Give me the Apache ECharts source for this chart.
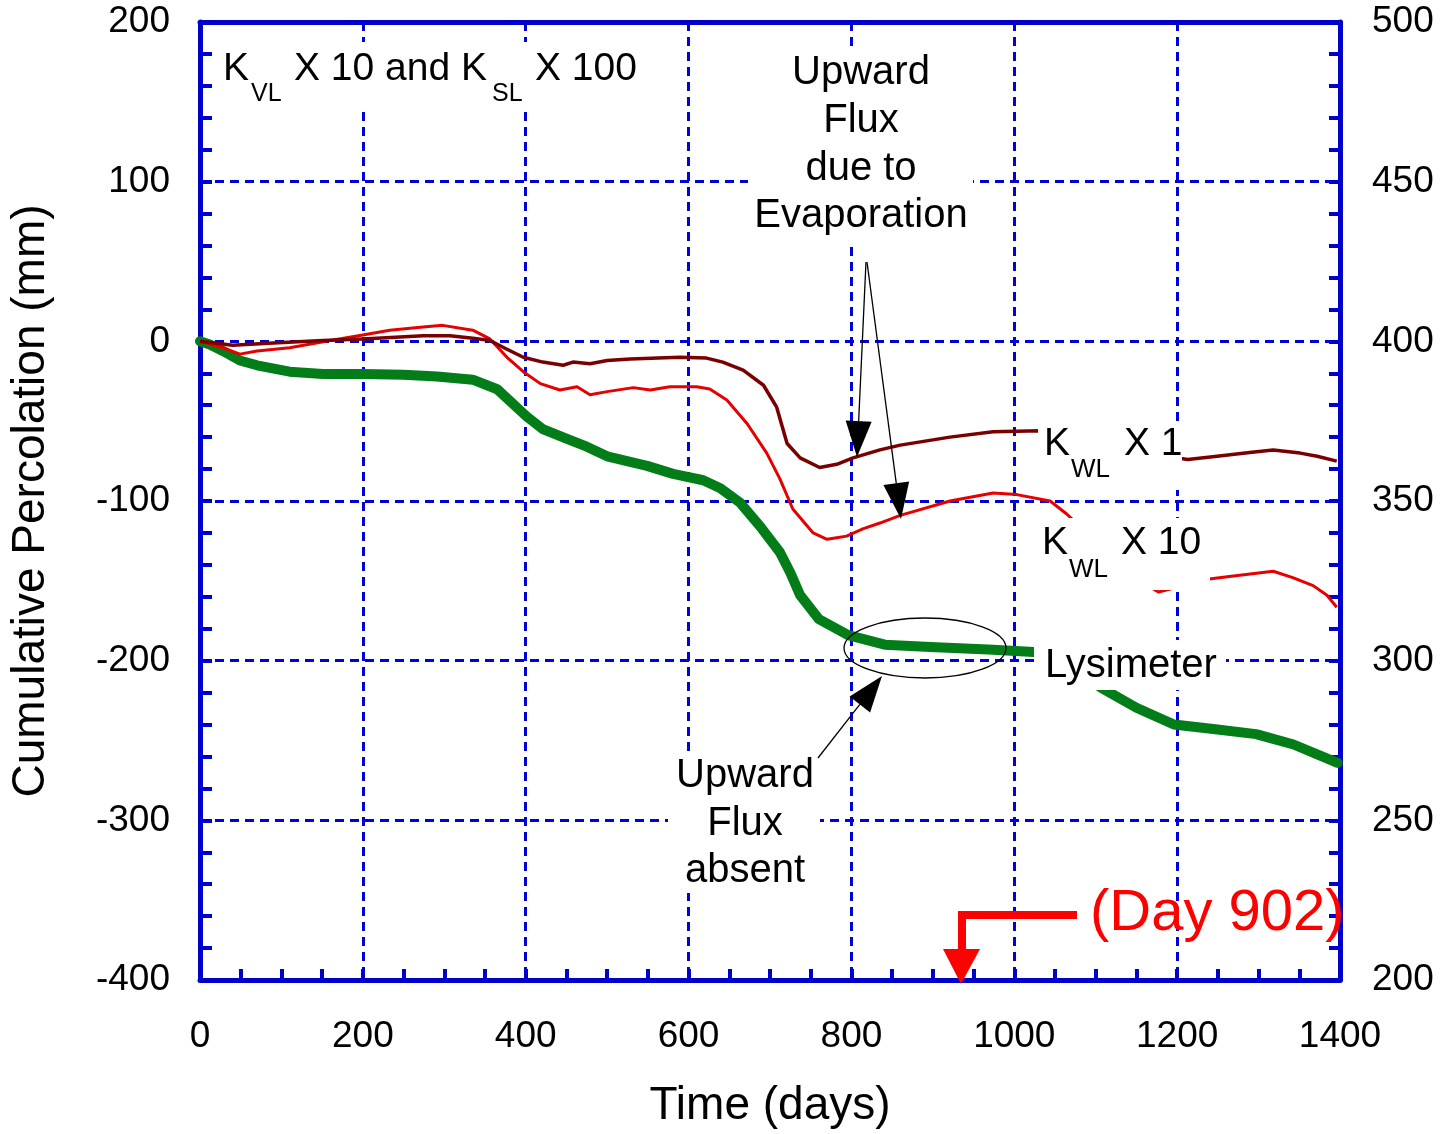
<!DOCTYPE html>
<html>
<head>
<meta charset="utf-8">
<script src="https://cdn.jsdelivr.net/npm/echarts@6/dist/echarts.min.js"></script>
<style>
  html, body { margin: 0; padding: 0; background: #fff; }
  #main { width: 1444px; height: 1134px; }
</style>
</head>
<body>
<div id="main"></div>
<script>
// Lysimeter (measured)
let lysDays = [0, 12, 28, 49, 70, 110, 151, 200, 250, 291, 335, 365, 401, 421, 450, 475, 500, 549, 581, 618, 639, 663, 688, 712, 725, 737, 760, 796, 841, 897, 968, 1024, 1060, 1107, 1150, 1196, 1247, 1297, 1343, 1397];
let lysVals = [0, -2, -6, -12, -15, -19, -20.5, -20.5, -21, -22, -24, -30, -47, -55, -61, -66, -72, -78, -83, -87, -92, -101, -116, -132, -145, -159, -174, -184, -190, -191.5, -193, -194.6, -200, -217, -229.5, -240, -243, -246, -252.5, -264];

// K_WL X 1
let kw1Days = [0, 40, 90, 151, 200, 274, 307, 335, 356, 377, 397, 421, 446, 458, 479, 500, 528, 589, 622, 642, 667, 692, 708, 721, 737, 761, 782, 802, 835, 860, 921, 974, 1031, 1100, 1160, 1213, 1249, 1289, 1318, 1351, 1372, 1396];
let kw1Vals = [0, -2.5, -1, 0.5, 1.5, 3.5, 3.5, 2, 0.5, -5, -10, -13, -15, -13, -14, -12, -11, -10, -10.5, -13, -18, -27.5, -41, -64, -73, -79, -77, -73, -68, -65, -60, -56.6, -56, -62, -70, -74, -72, -69.6, -68, -70, -72, -75];

// K_WL X 10
let kw10Days = [0, 28, 49, 70, 110, 160, 200, 233, 274, 298, 335, 356, 377, 397, 418, 442, 463, 479, 500, 532, 553, 577, 610, 626, 647, 672, 696, 712, 728, 753, 770, 782, 794, 814, 835, 860, 921, 974, 1003, 1044, 1064, 1100, 1130, 1167, 1177, 1200, 1237, 1269, 1318, 1342, 1367, 1384, 1396];
let kw10Vals = [0, -4, -8, -6, -4, 0.5, 4, 7, 9, 10, 7, 1.5, -10, -19, -26.5, -30.5, -28.5, -33.5, -31.5, -29, -30.5, -28.5, -28.5, -29.8, -36.7, -51.6, -70, -86, -105, -120, -124, -123, -122, -117.5, -113.8, -109, -100, -95, -96, -100, -108, -125, -140, -154, -157, -154, -149, -147, -144, -148, -153, -159, -166.5];

let FONT = '"Liberation Sans", Arial, sans-serif';
let BLUE = '#0000cc';

function zip(xs, ys){
  return xs.map((x, i) => [x, ys[i]]);
}

function whiteBox(x0, y0, x1, y1){
  return { type: 'rect', z: 50, silent: true,
    shape: { x: x0, y: y0, width: x1 - x0, height: y1 - y0 },
    style: { fill: '#fff', stroke: null } };
}

function txt(text, x, y, size, align, color){
  return { type: 'text', z: 60, silent: true,
    style: { text: text, x: x, y: y, font: size + 'px ' + FONT, fill: color || '#000',
      textAlign: align || 'left', align: align || 'left',
      textVerticalAlign: 'middle', verticalAlign: 'middle' } };
}

function arrow(x0, y0, x1, y1, headLen, headW){
  let dx = x1 - x0, dy = y1 - y0;
  let len = Math.sqrt(dx*dx + dy*dy);
  let ux = dx/len, uy = dy/len;
  let bx = x1 - ux*headLen, by = y1 - uy*headLen;
  return [
    { type: 'line', z: 60, silent: true, shape: { x1: x0, y1: y0, x2: bx, y2: by },
      style: { stroke: '#000', lineWidth: 1.3 } },
    { type: 'polygon', z: 60, silent: true,
      shape: { points: [[x1, y1], [bx - uy*headW, by + ux*headW], [bx + uy*headW, by - ux*headW]] },
      style: { fill: '#000' } }
  ];
}

var dom = document.getElementById('main');
var myChart = echarts.init(dom, null, { renderer: 'canvas' });

let graphics = [
  whiteBox(215, 42, 640, 110),
  whiteBox(748, 48, 973, 242),
  whiteBox(1038, 422, 1182, 490),
  whiteBox(1036, 518, 1210, 590),
  whiteBox(1034, 640, 1226, 690),
  whiteBox(668, 752, 820, 893),

  txt('K', 223, 69, 39), txt('VL', 251, 94, 25), txt('X 10 and K', 294, 69, 39),
  txt('SL', 492, 94, 25), txt('X 100', 535, 69, 39),

  txt('Upward', 861, 73, 40, 'center'), txt('Flux', 861, 121, 40, 'center'),
  txt('due to', 861, 169, 40, 'center'), txt('Evaporation', 861, 216, 40, 'center'),

  txt('Upward', 745, 776, 40, 'center'), txt('Flux', 745, 824, 40, 'center'),
  txt('absent', 745, 871, 40, 'center'),

  txt('K', 1044, 444, 39), txt('WL', 1071, 470, 26), txt('X 1', 1124, 444, 39),
  txt('K', 1042, 543, 39), txt('WL', 1069, 570, 26), txt('X 10', 1121, 543, 39),
  txt('Lysimeter', 1045, 666, 40),

  { type: 'ellipse', z: 60, silent: true, shape: { cx: 925, cy: 648, rx: 81, ry: 30 },
    style: { fill: null, stroke: '#000', lineWidth: 1.3 } },

  // Day 902 marker
  { type: 'polyline', z: 60, silent: true, shape: { points: [[1077, 915], [962, 915], [962, 952]] },
    style: { stroke: '#ff0000', lineWidth: 8, fill: null } },
  { type: 'polygon', z: 60, silent: true, shape: { points: [[943, 949], [980, 949], [961, 984]] },
    style: { fill: '#ff0000' } },
  txt('(Day 902)', 1090, 914, 58, 'left', '#ff0000')
];
graphics = graphics.concat(arrow(866, 262, 857, 457, 36, 13));
graphics = graphics.concat(arrow(867, 262, 901, 519, 36, 13));
graphics = graphics.concat(arrow(818, 758, 882, 676, 36, 13));

let tickStyle = { color: BLUE, width: 4 };
let plain = v => String(v);

var option = {
  animation: false,
  backgroundColor: '#fff',
  grid: { left: 200, right: 104, top: 22, bottom: 147, containLabel: false },
  xAxis: [
    {
      type: 'value', min: 0, max: 1400, interval: 200, position: 'bottom',
      axisLine: { onZero: false, lineStyle: { color: BLUE, width: 5 } },
      axisTick: { show: true, inside: true, length: 11, lineStyle: tickStyle },
      minorTick: { show: true, splitNumber: 4, length: 11, lineStyle: tickStyle },
      splitLine: { show: true, lineStyle: { color: '#0000dd', width: 3, type: [9, 6] } },
      axisLabel: { fontSize: 37, color: '#000', margin: 38, fontFamily: FONT, formatter: plain },
      name: 'Time (days)', nameLocation: 'middle', nameGap: 103,
      nameTextStyle: { fontSize: 46, color: '#000', fontFamily: FONT }
    },
    {
      type: 'value', min: 0, max: 1400, position: 'top',
      axisLine: { show: true, onZero: false, lineStyle: { color: BLUE, width: 5 } },
      axisTick: { show: false }, axisLabel: { show: false }, splitLine: { show: false }
    }
  ],
  yAxis: [
    {
      type: 'value', min: -400, max: 200, interval: 100, position: 'left',
      axisLine: { show: true, onZero: false, lineStyle: { color: BLUE, width: 5 } },
      axisTick: { show: true, inside: true, length: 12, lineStyle: tickStyle },
      minorTick: { show: true, splitNumber: 5, length: 12, lineStyle: tickStyle },
      splitLine: { show: true, lineStyle: { color: '#0000dd', width: 3, type: [9, 6] } },
      axisLabel: { fontSize: 37, color: '#000', margin: 30, fontFamily: FONT, formatter: plain },
      name: 'Cumulative Percolation (mm)', nameLocation: 'middle', nameGap: 146, nameRotate: 90,
      nameTextStyle: { fontSize: 46, color: '#000', fontFamily: FONT }
    },
    {
      type: 'value', min: 200, max: 500, interval: 50, position: 'right',
      axisLine: { show: true, onZero: false, lineStyle: { color: BLUE, width: 5 } },
      axisTick: { show: true, inside: true, length: 11, lineStyle: tickStyle },
      minorTick: { show: true, splitNumber: 5, length: 11, lineStyle: tickStyle },
      splitLine: { show: false },
      axisLabel: { fontSize: 37, color: '#000', margin: 32, fontFamily: FONT, formatter: plain }
    }
  ],
  series: [
    {
      name: 'Lysimeter', type: 'line', xAxisIndex: 0, yAxisIndex: 0,
      data: zip(lysDays, lysVals), showSymbol: false, symbol: 'none',
      lineStyle: { color: '#037d17', width: 10, join: 'round', cap: 'round' }
    },
    {
      name: 'KWL X 10', type: 'line', xAxisIndex: 0, yAxisIndex: 0,
      data: zip(kw10Days, kw10Vals), showSymbol: false, symbol: 'none',
      lineStyle: { color: '#e60000', width: 3, join: 'round' }
    },
    {
      name: 'KWL X 1', type: 'line', xAxisIndex: 0, yAxisIndex: 0,
      data: zip(kw1Days, kw1Vals), showSymbol: false, symbol: 'none',
      lineStyle: { color: '#7a0000', width: 3.5, join: 'round' }
    }
  ],
  graphic: graphics
};

myChart.setOption(option);
</script>
</body>
</html>
